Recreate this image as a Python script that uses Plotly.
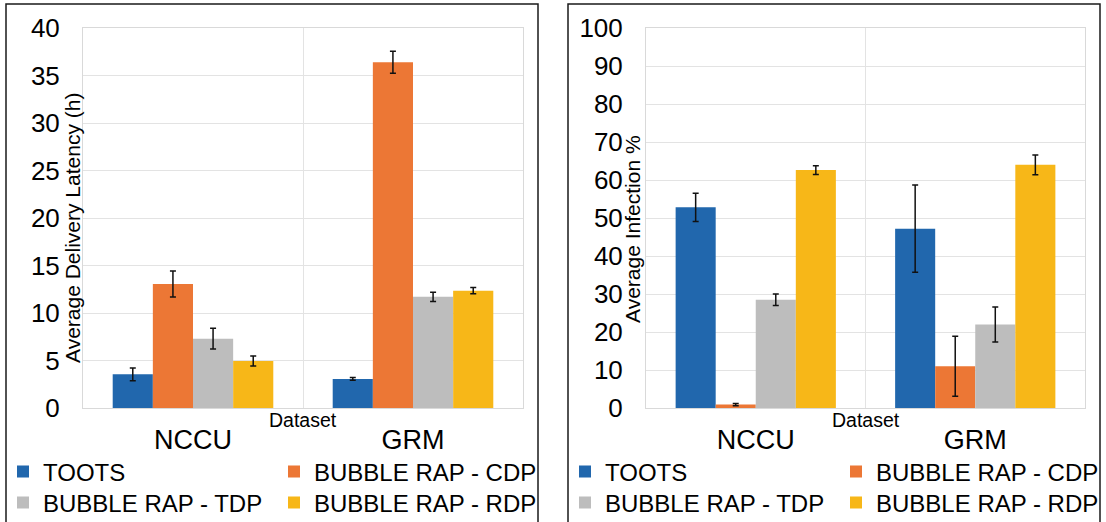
import plotly.graph_objects as go

datasets = ["NCCU", "GRM"]
series_names = ["TOOTS", "BUBBLE RAP - CDP", "BUBBLE RAP - TDP", "BUBBLE RAP - RDP"]
colors = ["#2167AD", "#EC7735", "#BDBDBD", "#F7B718"]

# Average Delivery Latency (h)
lat_toots = [3.55, 3.06]
lat_toots_err = [0.67, 0.14]
lat_cdp = [13.05, 36.4]
lat_cdp_err = [1.37, 1.16]
lat_tdp = [7.3, 11.7]
lat_tdp_err = [1.09, 0.48]
lat_rdp = [4.95, 12.35]
lat_rdp_err = [0.53, 0.33]

# Average Infection %
inf_toots = [52.8, 47.2]
inf_toots_err = [3.7, 11.5]
inf_cdp = [0.9, 11.0]
inf_cdp_err = [0.3, 7.9]
inf_tdp = [28.5, 22.0]
inf_tdp_err = [1.5, 4.6]
inf_rdp = [62.6, 64.0]
inf_rdp_err = [1.15, 2.6]

lat_vals = [lat_toots, lat_cdp, lat_tdp, lat_rdp]
lat_errs = [lat_toots_err, lat_cdp_err, lat_tdp_err, lat_rdp_err]
inf_vals = [inf_toots, inf_cdp, inf_tdp, inf_rdp]
inf_errs = [inf_toots_err, inf_cdp_err, inf_tdp_err, inf_rdp_err]

W, H = 1106, 522
FONT = "Arial, Liberation Sans, sans-serif"

fig = go.Figure()

def px_x(x):
    return x / W

def px_y(y):
    return (H - y) / H

left_legends = ["legend", "legend", "legend2", "legend2"]
right_legends = ["legend3", "legend3", "legend4", "legend4"]

for i, name in enumerate(series_names):
    fig.add_trace(go.Bar(
        x=datasets, y=lat_vals[i], name=name,
        marker=dict(color=colors[i], line=dict(width=0)),
        error_y=dict(type="data", array=lat_errs[i], visible=True,
                     color="#111111", thickness=1.5, width=3),
        xaxis="x", yaxis="y", legend=left_legends[i],
    ))
for i, name in enumerate(series_names):
    fig.add_trace(go.Bar(
        x=datasets, y=inf_vals[i], name=name,
        marker=dict(color=colors[i], line=dict(width=0)),
        error_y=dict(type="data", array=inf_errs[i], visible=True,
                     color="#111111", thickness=1.5, width=3),
        xaxis="x2", yaxis="y2", legend=right_legends[i],
    ))

grid = "#E3E3E3"
ydom = [px_y(408), px_y(28)]

xaxis_common = dict(
    type="category", tickson="boundaries", showgrid=True, gridcolor=grid,
    showline=True, linecolor="#D9D9D9", mirror=True, ticks="",
    tickfont=dict(size=27, color="#000000", family=FONT),
    ticklabelstandoff=8, zeroline=False,
)
yaxis_common = dict(
    showgrid=True, gridcolor=grid, showline=True, linecolor="#D9D9D9",
    mirror=True, ticks="", zeroline=False,
    tickfont=dict(size=26, color="#000000", family=FONT),
    ticklabelstandoff=17,
)

legend_common = dict(
    orientation="h", entrywidth=226, entrywidthmode="pixels",
    font=dict(size=24, color="#000000", family=FONT),
    bgcolor="rgba(0,0,0,0)", borderwidth=0,
    xanchor="left", yanchor="middle", traceorder="normal",
)

fig.update_layout(
    width=W, height=H,
    margin=dict(l=0, r=0, t=0, b=0, autoexpand=False),
    paper_bgcolor="white", plot_bgcolor="white",
    barmode="group", bargap=0.27, bargroupgap=0,
    font=dict(family=FONT, color="#000000"),
    xaxis=dict(domain=[px_x(83), px_x(523)], anchor="y", **xaxis_common),
    yaxis=dict(domain=ydom, anchor="x", range=[0, 40], dtick=5, **yaxis_common),
    xaxis2=dict(domain=[px_x(646), px_x(1085)], anchor="y2", **xaxis_common),
    yaxis2=dict(domain=ydom, anchor="x2", range=[0, 100], dtick=10, **yaxis_common),
    legend=dict(x=px_x(3), y=px_y(472), **legend_common),
    legend2=dict(x=px_x(3), y=px_y(503), **legend_common),
    legend3=dict(x=px_x(565), y=px_y(472), **legend_common),
    legend4=dict(x=px_x(565), y=px_y(503), **legend_common),
    showlegend=True,
)

# panel borders
for x0, x1 in [(6, 538), (568, 1100)]:
    fig.add_shape(type="rect", xref="paper", yref="paper",
                  x0=px_x(x0), x1=px_x(x1), y0=-0.1, y1=px_y(4),
                  line=dict(color="#1A1A1A", width=1.5), fillcolor="rgba(0,0,0,0)")

# axis titles
fig.add_annotation(text="Average Delivery Latency (h)", textangle=-90,
                   xref="paper", yref="paper", x=px_x(72), y=px_y(228),
                   xanchor="center", yanchor="middle", showarrow=False,
                   font=dict(size=21, color="#000000", family=FONT))
fig.add_annotation(text="Average Infection %", textangle=-90,
                   xref="paper", yref="paper", x=px_x(632), y=px_y(229),
                   xanchor="center", yanchor="middle", showarrow=False,
                   font=dict(size=21, color="#000000", family=FONT))
for cx in [303, 865.5]:
    fig.add_annotation(text="Dataset", xref="paper", yref="paper",
                       x=px_x(cx), y=px_y(420), xanchor="center", yanchor="middle",
                       showarrow=False, font=dict(size=19.5, color="#000000", family=FONT))

fig.write_html("out.html", config={"displayModeBar": False},
               post_script="document.body.style.margin='0';")
